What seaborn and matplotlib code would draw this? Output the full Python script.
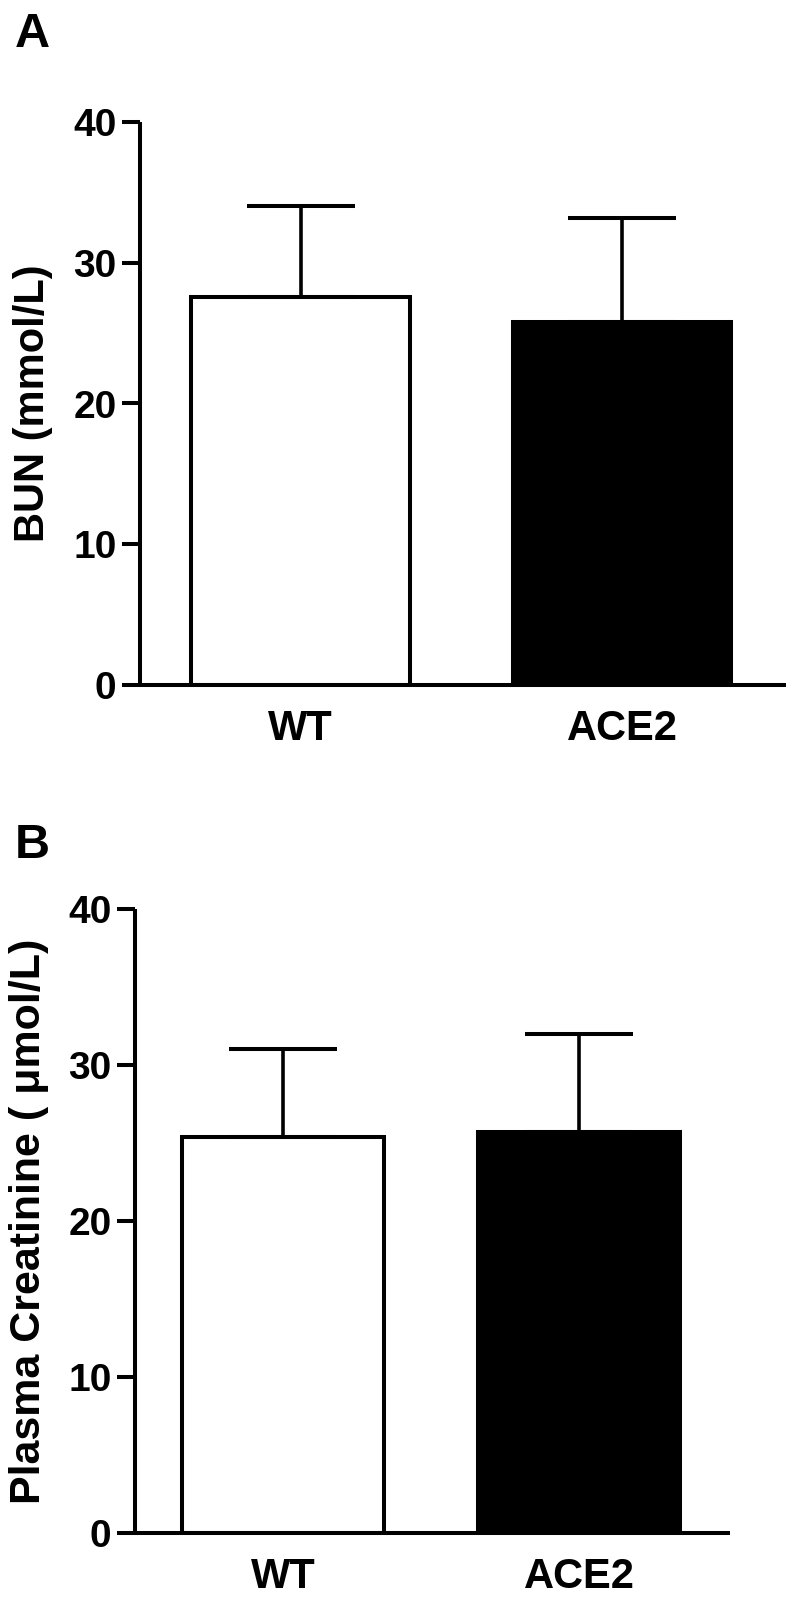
import matplotlib
matplotlib.use("Agg")
import matplotlib.pyplot as plt
import seaborn as sns
import numpy as np

# ---- data ----
groups = ["WT", "ACE2"]
bun_mean = [27.6, 25.8]
bun_err = [6.4, 7.4]
crea_mean = [25.4, 25.7]
crea_err = [5.6, 6.3]
bar_colors = ["white", "black"]
yticks = [0, 10, 20, 30, 40]

sns.set_theme(style="ticks")
plt.rcParams["font.family"] = ["Liberation Sans", "DejaVu Sans"]
plt.rcParams["font.weight"] = "bold"
plt.rcParams["text.color"] = "black"
plt.rcParams["axes.labelcolor"] = "black"
plt.rcParams["xtick.color"] = "black"
plt.rcParams["ytick.color"] = "black"
plt.rcParams["xtick.labelcolor"] = "black"
plt.rcParams["ytick.labelcolor"] = "black"

W, H = 797, 1598
fig = plt.figure(figsize=(W / 100, H / 100), dpi=100)

LW = 2.9


def panel(rect, means, errs, ylabel, label_x, label_size):
    ax = fig.add_axes(rect)
    sns.barplot(x=groups, y=means, hue=groups, palette=bar_colors,
                edgecolor="black", linewidth=LW, width=0.68,
                errorbar=None, legend=False, ax=ax, saturation=1)
    ax.errorbar(x=np.arange(len(groups)), y=means,
                yerr=[np.zeros(len(errs)), errs], fmt="none",
                ecolor="black", elinewidth=2.6, capsize=39, capthick=LW,
                zorder=1)
    ax.set_xlim(-0.5, 1.51)
    ax.set_ylim(0, 40)
    ax.set_yticks(yticks)
    ax.set_yticklabels([str(t) for t in yticks], fontsize=28,
                       fontweight="bold", color="black")
    for lbl in ax.get_xticklabels():
        lbl.set_fontsize(30)
        lbl.set_fontweight("bold")
        lbl.set_color("black")
    ax.tick_params(axis="y", length=13, width=LW, pad=4, color="black")
    ax.tick_params(axis="x", length=0, pad=17)
    for s in ["top", "right"]:
        ax.spines[s].set_visible(False)
    for s in ["left", "bottom"]:
        ax.spines[s].set_linewidth(LW)
        ax.spines[s].set_color("black")
        ax.spines[s].set_capstyle("butt")
    ax.set_xlabel("")
    ax.set_ylabel(ylabel, fontsize=label_size, fontweight="bold", va="center",
                  color="black")
    ax.yaxis.set_label_coords(label_x, 0.5)
    ax.set_facecolor("white")
    return ax


axA = panel([140 / W, 1 - 685 / H, (786 - 140) / W, (685 - 122) / H],
            bun_mean, bun_err, "BUN (mmol/L)", -0.166, 30)
axB = panel([135 / W, 1 - 1533 / H, (730 - 135) / W, (1533 - 909) / H],
            crea_mean, crea_err, "Plasma Creatinine ( \u03bcmol/L)", -0.178, 31)

fig.text(15 / W, 1 - 47 / H, "A", fontsize=35, fontweight="bold",
         va="baseline", color="black")
fig.text(15 / W, 1 - 858 / H, "B", fontsize=35, fontweight="bold",
         va="baseline", color="black")

fig.savefig("out.png", dpi=100, facecolor="white")
